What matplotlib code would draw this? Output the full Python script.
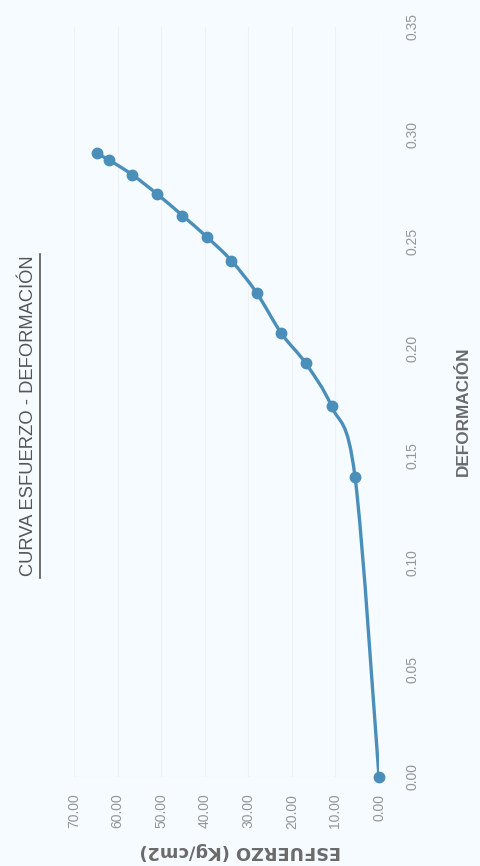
import numpy as np
import matplotlib.pyplot as plt
from matplotlib.path import Path
from matplotlib.patches import PathPatch

# Datos (esfuerzo en Kg/cm2, deformación)
deformacion = [0.000, 0.140, 0.173, 0.193, 0.207, 0.226, 0.241, 0.252, 0.262, 0.272, 0.281, 0.288, 0.291]
esfuerzo = [0.00, 5.5, 10.9, 16.8, 22.4, 28.1, 33.9, 39.5, 45.1, 50.9, 56.6, 62.0, 64.8]

ticks_esf = [0, 10, 20, 30, 40, 50, 60, 70]
ticks_def = [0.00, 0.05, 0.10, 0.15, 0.20, 0.25, 0.30, 0.35]

plt.rcParams['font.family'] = ['Liberation Sans', 'DejaVu Sans']

fondo = '#f5fbfe'
azul = '#4a8fba'
gris = '#959595'

W, H = 480, 866
fig = plt.figure(figsize=(W / 100, H / 100), dpi=100, facecolor=fondo)
# el gráfico está girado 90°: esfuerzo en horizontal (invertido), deformación en vertical
ax = fig.add_axes([74 / W, 89 / H, 305 / W, 750 / H])
ax.set_facecolor(fondo)
ax.set_xlim(70, 0)
ax.set_ylim(0, 0.35)

for s in ax.spines.values():
    s.set_visible(False)
for t in ticks_esf[1:]:
    ax.axvline(t, color='#edf2f5', lw=0.8, zorder=0)
ax.axvline(0, color='#d6dbde', lw=0.8, ls=(0, (2, 1)), zorder=0)
ax.axhline(0, color='#d6dbde', lw=0.8, ls=(0, (2, 1)), zorder=0)

# línea suavizada (tipo Excel) a partir de los puntos
pts = np.column_stack([esfuerzo, deformacion])
verts = [pts[0]]
codes = [Path.MOVETO]
n = len(pts)
for i in range(n - 1):
    p0 = pts[i - 1] if i > 0 else pts[i]
    p1 = pts[i]
    p2 = pts[i + 1]
    p3 = pts[i + 2] if i + 2 < n else pts[i + 1]
    verts += [p1 + (p2 - p0) / 6, p2 - (p3 - p1) / 6, p2]
    codes += [Path.CURVE4] * 3
ax.add_patch(PathPatch(Path(verts, codes), fill=False, edgecolor=azul, lw=2.4, zorder=2))
ax.plot(esfuerzo, deformacion, 'o', color=azul, ms=7.5, zorder=3, clip_on=False)

ax.set_xticks(ticks_esf)
ax.set_xticklabels(['%.2f' % t for t in ticks_esf], rotation=90, color=gris, fontsize=10)
ax.set_yticks(ticks_def)
ax.yaxis.tick_right()
ax.set_yticklabels(['%.2f' % t for t in ticks_def], rotation=90, va='center', color=gris, fontsize=10)
ax.tick_params(axis='x', length=0, pad=12)
ax.tick_params(axis='y', length=0, pad=19)

fig.text(29 / W, 1 - 416 / H, 'CURVA ESFUERZO - DEFORMACIÓN', rotation=90, ha='center', va='center',
         fontsize=13.2, color='#555555')
fig.add_artist(plt.Line2D([40 / W, 40 / W], [1 - 578 / H, 1 - 254 / H], color='#555555', lw=1.2))
fig.text(463 / W, 1 - 411 / H, 'DEFORMACIÓN', rotation=90, ha='center', va='center',
         fontsize=12.3, fontweight='bold', color='#6a6a6a')
fig.text(240 / W, 1 - 851 / H, 'ESFUERZO (Kg/cm2)', rotation=180, ha='center', va='center',
         fontsize=12.8, fontweight='bold', color='#6a6a6a', family='DejaVu Sans')

fig.savefig('out.png', dpi=100, facecolor=fondo)
